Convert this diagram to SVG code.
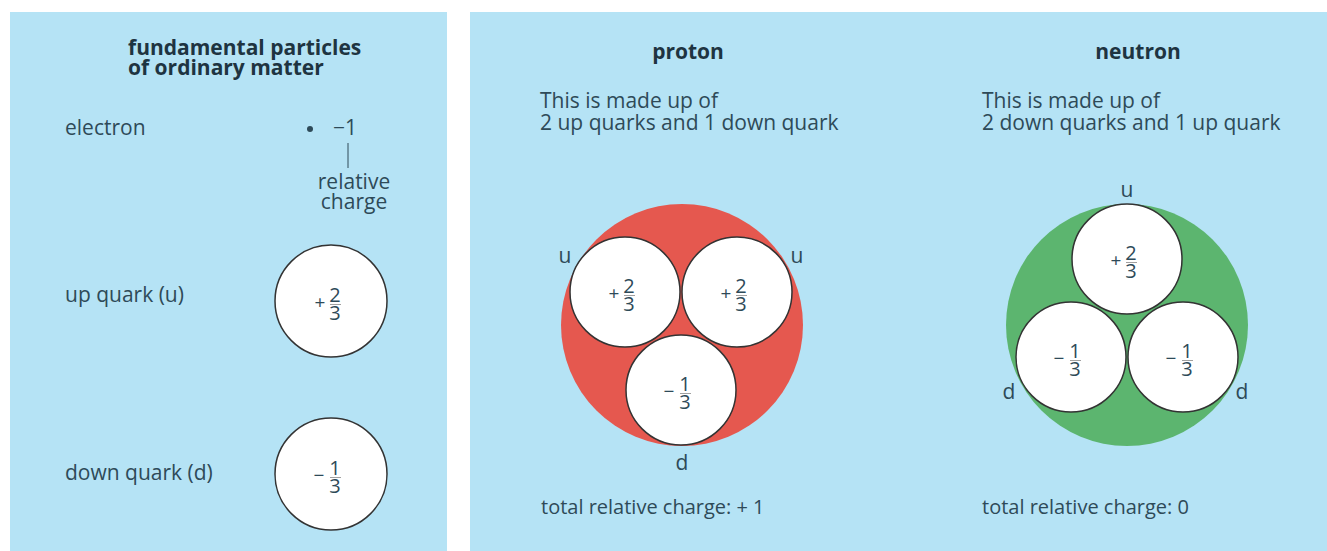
<svg xmlns="http://www.w3.org/2000/svg" width="1327" height="551" viewBox="0 0 1327 551">
<style>
text{font-family:"Open Sans","Noto Sans",sans-serif;fill:#2e4a58}
.t{font-size:21px}
.c{font-size:20px}
.b{font-size:21px;font-weight:bold;fill:#1e3441}
.n{font-size:20px;text-anchor:middle}
.s{font-size:19px;text-anchor:middle}
.q{fill:#fff;stroke:#333;stroke-width:1.5}
.bar{stroke:#888;stroke-width:0.8}
.m{text-anchor:middle}
</style>
<rect width="1327" height="551" fill="#fff"/>
<rect id="panel-left" x="10" y="12" width="437" height="539" fill="#b5e3f5"/>
<rect id="panel-right" x="470" y="12" width="857" height="539" fill="#b5e3f5"/>

<g id="left-title">
<text class="b" x="128" y="55">fundamental particles</text>
<text class="b" x="128" y="75">of ordinary matter</text>
</g>

<g id="electron">
<text class="t" x="65" y="135">electron</text>
<circle cx="310" cy="129" r="3" fill="#2e4a58"/>
<text class="t" x="333" y="135">−1</text>
<line x1="348" y1="143" x2="348" y2="168" stroke="#2e4a58" stroke-width="1"/>
<text class="t m" x="354" y="189">relative</text>
<text class="t m" x="354" y="209">charge</text>
</g>

<g id="up-quark">
<text class="t" x="65" y="302">up quark (u)</text>
<circle class="q" cx="331" cy="301" r="56"/>
<text class="s" x="320" y="309">+</text>
<text class="n" x="335" y="302">2</text>
<line class="bar" x1="330" y1="304.5" x2="341" y2="304.5"/>
<text class="n" x="335" y="320">3</text>
</g>

<g id="down-quark">
<text class="t" x="65" y="480">down quark (d)</text>
<circle class="q" cx="331" cy="474" r="56"/>
<text class="s" x="319" y="482">−</text>
<text class="n" x="335" y="475">1</text>
<line class="bar" x1="330" y1="477.5" x2="341" y2="477.5"/>
<text class="n" x="335" y="493">3</text>
</g>

<g id="proton">
<text class="b m" x="688" y="59">proton</text>
<text class="t" x="540" y="108">This is made up of</text>
<text class="t" x="540" y="130">2 up quarks and 1 down quark</text>
<circle cx="682" cy="325" r="121" fill="#e5584f"/>
<circle class="q" cx="625" cy="292" r="55"/>
<circle class="q" cx="737" cy="292" r="55"/>
<circle class="q" cx="681" cy="390" r="55"/>
<text class="s" x="614" y="300">+</text>
<text class="n" x="629" y="293">2</text>
<line class="bar" x1="624" y1="295.5" x2="635" y2="295.5"/>
<text class="n" x="629" y="311">3</text>
<text class="s" x="726" y="300">+</text>
<text class="n" x="741" y="293">2</text>
<line class="bar" x1="736" y1="295.5" x2="747" y2="295.5"/>
<text class="n" x="741" y="311">3</text>
<text class="s" x="669" y="398">−</text>
<text class="n" x="685" y="391">1</text>
<line class="bar" x1="680" y1="393.5" x2="691" y2="393.5"/>
<text class="n" x="685" y="409">3</text>
<text class="t m" x="565" y="263">u</text>
<text class="t m" x="797" y="263">u</text>
<text class="t m" x="682" y="470">d</text>
<text class="c" x="541" y="514">total relative charge: + 1</text>
</g>

<g id="neutron">
<text class="b m" x="1138" y="59">neutron</text>
<text class="t" x="982" y="108">This is made up of</text>
<text class="t" x="982" y="130">2 down quarks and 1 up quark</text>
<circle cx="1127" cy="325" r="121" fill="#5cb56f"/>
<circle class="q" cx="1127" cy="259" r="55"/>
<circle class="q" cx="1071" cy="357" r="55"/>
<circle class="q" cx="1183" cy="357" r="55"/>
<text class="s" x="1116" y="267">+</text>
<text class="n" x="1131" y="260">2</text>
<line class="bar" x1="1126" y1="262.5" x2="1137" y2="262.5"/>
<text class="n" x="1131" y="278">3</text>
<text class="s" x="1059" y="365">−</text>
<text class="n" x="1075" y="358">1</text>
<line class="bar" x1="1070" y1="360.5" x2="1081" y2="360.5"/>
<text class="n" x="1075" y="376">3</text>
<text class="s" x="1171" y="365">−</text>
<text class="n" x="1187" y="358">1</text>
<line class="bar" x1="1182" y1="360.5" x2="1193" y2="360.5"/>
<text class="n" x="1187" y="376">3</text>
<text class="t m" x="1127" y="197">u</text>
<text class="t m" x="1009" y="399">d</text>
<text class="t m" x="1242" y="399">d</text>
<text class="c" x="982" y="514">total relative charge: 0</text>
</g>
</svg>
